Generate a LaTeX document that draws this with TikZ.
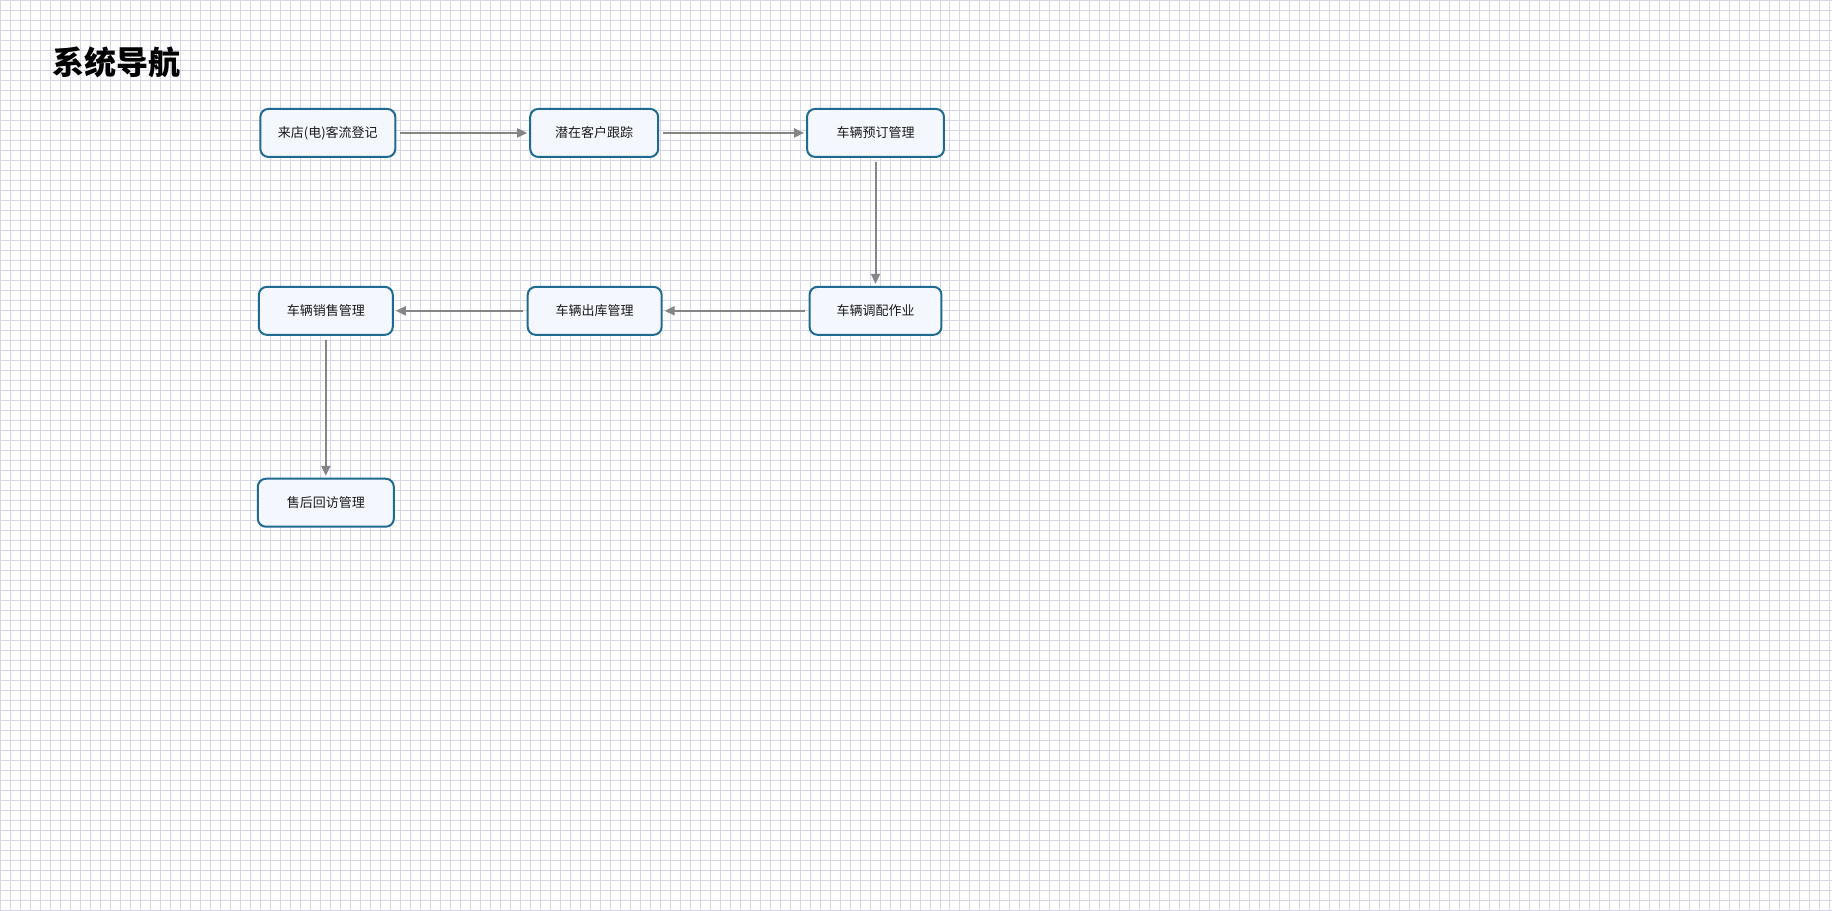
\documentclass[tikz,border=0pt]{standalone}
\usepackage{fontspec}
\setmainfont{Noto Sans CJK SC}
\usepackage{tikz}
\usetikzlibrary{arrows.meta,positioning}
\usepackage{xcolor}
\definecolor{gridLav}{HTML}{D6D5EA}
\definecolor{boxBlue}{HTML}{1E6A91}
\definecolor{boxFill}{HTML}{F5F7FE}
\definecolor{linkGray}{HTML}{858585}
\definecolor{txtDark}{HTML}{1A1A1A}

\begin{document}
\begin{tikzpicture}[
    x=1pt, y=-1pt,
    navbox/.style={rectangle, draw=boxBlue, fill=boxFill, line width=2pt,
                   rounded corners=8pt, minimum height=48pt, inner sep=2pt,
                   align=center, text=txtDark, font=\fontsize{13}{15}\selectfont},
    link/.style={-{Triangle[length=10pt,width=9pt]}, draw=linkGray, fill=linkGray,
                 line width=2pt, shorten <=4pt, shorten >=2pt},
]
    % background grid
    \fill[white] (0,0) rectangle (1832,910);
    \draw[gridLav, line width=1pt, step=10pt] (0,0) grid (1832,910);
    \useasboundingbox (0,0) rectangle (1832,910);

    \node[anchor=west, inner sep=0pt, font=\fontsize{32}{38}\selectfont\bfseries]
         (title) at (52,62) {系统导航};

    % top row
    \node[navbox, minimum width=135pt] (visit) at (327.5,132.5) {来店(电)客流登记};
    \node[navbox, minimum width=128pt, right=133pt of visit] (track) {潜在客户跟踪};
    \node[navbox, minimum width=137pt, right=147pt of track] (order) {车辆预订管理};
    % middle row
    \node[navbox, minimum width=132pt, below=128pt of order] (dispatch) {车辆调配作业};
    \node[navbox, minimum width=134pt, left=146pt of dispatch] (outbound) {车辆出库管理};
    \node[navbox, minimum width=134pt, left=133pt of outbound] (sales) {车辆销售管理};
    % bottom
    \node[navbox, minimum width=136pt, below=142pt of sales] (aftersale) {售后回访管理};

    \draw[link] (visit) -- (track);
    \draw[link] (track) -- (order);
    \draw[link] (order) -- (dispatch);
    \draw[link] (dispatch) -- (outbound);
    \draw[link] (outbound) -- (sales);
    \draw[link] (sales) -- (aftersale);
\end{tikzpicture}
\end{document}
